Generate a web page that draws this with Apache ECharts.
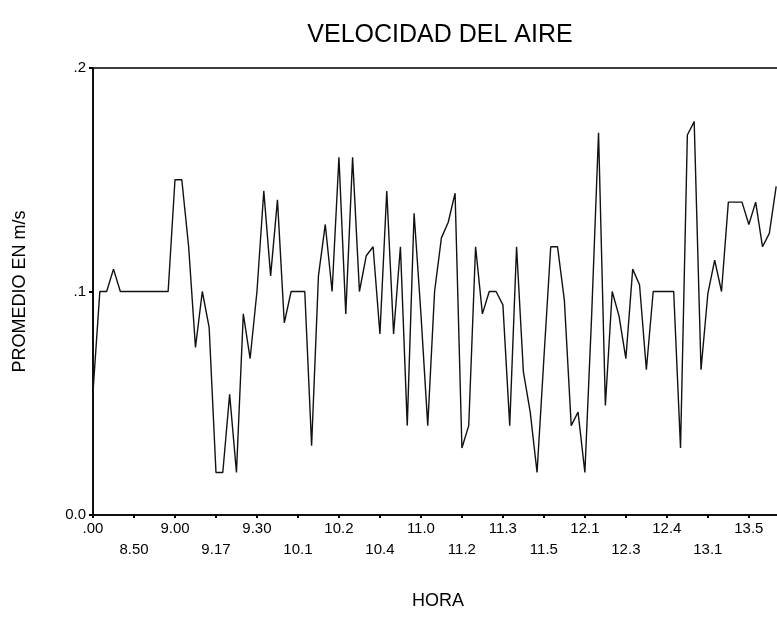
<!DOCTYPE html>
<html>
<head>
<meta charset="utf-8">
<script src="https://cdn.jsdelivr.net/npm/echarts@6/dist/echarts.min.js"></script>
<style>
  html, body { margin: 0; padding: 0; background: #fff; }
  #chart { width: 777px; height: 643px; }
</style>
</head>
<body>
<div id="chart"></div>
<script>
// labels under every 6th reading (hora)
const horaLabels = ['.00', '8.50', '9.00', '9.17', '9.30', '10.1', '10.2', '10.4', '11.0',
    '11.2', '11.3', '11.5', '12.1', '12.3', '12.4', '13.1', '13.5']
const labelStep = 6

// promedio en m/s, one value per reading
const velocidad = [
    0.055, 0.1, 0.1, 0.11, 0.1, 0.1, 0.1, 0.1, 0.1, 0.1,
    0.1, 0.1, 0.15, 0.15, 0.12, 0.075, 0.1, 0.084, 0.019, 0.019,
    0.054, 0.019, 0.09, 0.07, 0.1, 0.145, 0.107, 0.141, 0.086, 0.1,
    0.1, 0.1, 0.031, 0.107, 0.13, 0.1, 0.16, 0.09, 0.16, 0.1,
    0.116, 0.12, 0.081, 0.145, 0.081, 0.12, 0.04, 0.135, 0.09, 0.04,
    0.1, 0.124, 0.131, 0.144, 0.03, 0.04, 0.12, 0.09, 0.1, 0.1,
    0.094, 0.04, 0.12, 0.064, 0.046, 0.019, 0.07, 0.12, 0.12, 0.096,
    0.04, 0.046, 0.019, 0.09, 0.171, 0.049, 0.1, 0.089, 0.07, 0.11,
    0.103, 0.065, 0.1, 0.1, 0.1, 0.1, 0.03, 0.17, 0.176, 0.065,
    0.099, 0.114, 0.1, 0.14, 0.14, 0.14, 0.13, 0.14, 0.12, 0.126,
    0.147
]

const yTicks = [0, 0.1, 0.2]
const yTickLabels = ['0.0', '.1', '.2']

const font = 'Arial, "Liberation Sans", sans-serif'
const chart = echarts.init(document.getElementById('chart'), null, { renderer: 'canvas' })

const option = {
    animation: false,
    backgroundColor: '#fff',
    title: {
        text: 'VELOCIDAD DEL AIRE',
        left: 440,
        top: 23,
        padding: 0,
        textAlign: 'center',
        textStyle: { fontFamily: font, fontSize: 25, fontWeight: 'normal', color: '#000' }
    },
    grid: {
        left: 93,
        top: 68,
        width: 690,
        height: 447,
        outerBoundsMode: 'none',
        show: true,
        borderColor: '#000',
        borderWidth: 1.5,
        backgroundColor: 'transparent'
    },
    xAxis: {
        type: 'value',
        min: 0,
        max: 101,
        interval: labelStep,
        name: 'HORA',
        nameLocation: 'middle',
        nameGap: 77,
        nameTextStyle: { fontFamily: font, fontSize: 18, color: '#000' },
        axisLine: { lineStyle: { color: '#000', width: 1.5 } },
        axisTick: { show: true, length: 3, lineStyle: { color: '#000', width: 2 } },
        splitLine: { show: false },
        axisLabel: {
            margin: 3,
            fontFamily: font,
            fontSize: 15,
            lineHeight: 21,
            color: '#000',
            showMaxLabel: false,
            formatter: (v) => {
                const k = v / labelStep
                if (!Number.isInteger(k) || k >= horaLabels.length) return ''
                return k % 2 ? '\n' + horaLabels[k] : horaLabels[k]
            }
        }
    },
    yAxis: {
        type: 'value',
        min: 0,
        max: 0.2,
        interval: 0.1,
        name: 'PROMEDIO EN m/s',
        nameLocation: 'middle',
        nameRotate: 90,
        nameGap: 64,
        nameTextStyle: { fontFamily: font, fontSize: 18, color: '#000' },
        axisLine: { show: true, lineStyle: { color: '#000', width: 1.5 } },
        axisTick: { show: true, length: 4, lineStyle: { color: '#000', width: 2 } },
        splitLine: { show: false },
        axisLabel: {
            margin: 7,
            fontFamily: font,
            fontSize: 15,
            color: '#000',
            formatter: (v) => {
                const i = yTicks.findIndex(t => Math.abs(t - v) < 1e-9)
                return i >= 0 ? yTickLabels[i] : ''
            }
        }
    },
    series: [
        {
            type: 'line',
            data: velocidad.map((v, i) => [i, v]),
            showSymbol: false,
            lineStyle: { color: '#111', width: 1.4 },
            clip: true
        }
    ]
}
chart.setOption(option)
</script>
</body>
</html>
